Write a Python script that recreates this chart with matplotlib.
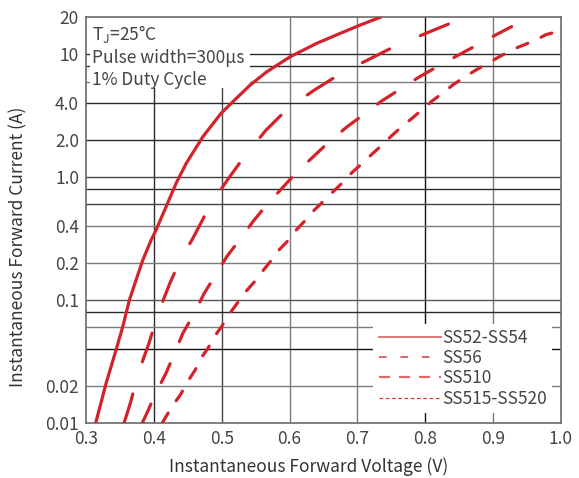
import numpy as np
import matplotlib
matplotlib.use("Agg")
import matplotlib.pyplot as plt
from matplotlib.lines import Line2D
from matplotlib.patches import Rectangle

plt.rcParams['font.family'] = ['Noto Sans CJK SC', 'DejaVu Sans']
plt.rcParams['mathtext.fontset'] = 'custom'

# data (forward voltage V, forward current A)
v_ss52 = [0.3147, 0.3295, 0.3442, 0.3541, 0.3639, 0.3836, 0.3959, 0.4032, 0.418, 0.4327, 0.4475,
          0.4721, 0.4991, 0.5164, 0.5419, 0.5665, 0.6009, 0.6403, 0.6746, 0.7041, 0.7336]
i_ss52 = [0.0102, 0.0209, 0.0391, 0.0605, 0.0998, 0.211, 0.307, 0.371, 0.574, 0.889, 1.29,
          2.13, 3.31, 4.11, 5.62, 7.21, 9.55, 12.3, 14.8, 17.3, 20.0]

v_ss56 = [0.356, 0.3585, 0.366, 0.377, 0.393, 0.4058, 0.4224, 0.440, 0.456, 0.484, 0.510, 0.536,
          0.5655, 0.5965, 0.635, 0.670, 0.714, 0.751, 0.7956, 0.834, 0.859]
i_ss56 = [0.01, 0.011, 0.0149, 0.0255, 0.0448, 0.0767, 0.132, 0.220, 0.307, 0.604, 0.977, 1.54,
          2.42, 3.58, 5.05, 6.68, 8.93, 11.3, 14.4, 17.6, 20.0]

v_ss510 = [0.383, 0.390, 0.402, 0.418, 0.430, 0.4426, 0.458, 0.474, 0.490, 0.508, 0.526, 0.547,
           0.5665, 0.590, 0.610, 0.635, 0.657, 0.6835, 0.708, 0.735, 0.761, 0.790, 0.816, 0.847,
           0.874, 0.904, 0.930, 0.9475, 0.955]
i_ss510 = [0.01, 0.0121, 0.0171, 0.0255, 0.0362, 0.0535, 0.0753, 0.113, 0.157, 0.228, 0.307, 0.442,
           0.596, 0.826, 1.09, 1.47, 1.91, 2.54, 3.20, 4.14, 5.12, 6.49, 7.83, 9.73,
           11.7, 14.4, 17.1, 19.0, 20.0]

v_ss515 = [0.4125, 0.4176, 0.4273, 0.4401, 0.4485, 0.4608, 0.4681, 0.4804, 0.4888, 0.5002, 0.5109,
           0.5232, 0.5335, 0.5493, 0.5591, 0.5724, 0.5851, 0.5984, 0.6097, 0.6245, 0.6353, 0.6515,
           0.6639, 0.6795, 0.6919, 0.7081, 0.7214, 0.7376, 0.7499, 0.7665, 0.7804, 0.7975, 0.8099,
           0.8280, 0.8417, 0.8600, 0.8748, 0.8944, 0.9091, 0.9294, 0.9450, 0.9648, 0.9770, 0.9943]
i_ss515 = [0.01, 0.0112, 0.0137, 0.0173, 0.0212, 0.0269, 0.0328, 0.0411, 0.0501, 0.0612, 0.0767,
           0.0948, 0.114, 0.143, 0.169, 0.208, 0.258, 0.307, 0.371, 0.453, 0.532, 0.650,
           0.760, 0.917, 1.09, 1.31, 1.54, 1.85, 2.16, 2.61, 3.01, 3.63, 4.16,
           4.95, 5.69, 6.65, 7.45, 8.61, 9.55, 11.0, 11.9, 13.2, 14.4, 15.3]

labels = ['SS52-SS54', 'SS56', 'SS510', 'SS515-SS520']

x_ticks = [0.3, 0.4, 0.5, 0.6, 0.7, 0.8, 0.9, 1.0]
x_ticklabels = ['0.3', '0.4', '0.5', '0.6', '0.7', '0.8', '0.9', '1.0']
y_ticks = [0.01, 0.02, 0.1, 0.2, 0.4, 1.0, 2.0, 4.0, 10, 20]
y_ticklabels = ['0.01', '0.02', '0.1', '0.2', '0.4', '1.0', '2.0', '4.0', '10', '20']
y_grid = [0.02, 0.04, 0.06, 0.08, 0.1, 0.2, 0.4, 0.6, 0.8, 1.0, 2.0, 4.0, 6.0, 8.0, 10]

red = '#d2232a'
dark = '#2a2a2a'
gray = '#7d7a7a'
txt = '#444444'
fs = 12.5

fig = plt.figure(figsize=(5.79, 4.78), dpi=100)
ax = fig.add_axes([0.1485, 0.1151, 0.8204, 0.8487])
ax.set_yscale('log')
ax.set_xlim(0.3, 1.0)
ax.set_ylim(0.01, 20)

# grid, some lines darker than others like the original sheet
vcol = {0.4: dark, 0.5: '#444444', 0.6: gray, 0.7: gray, 0.8: '#111111', 0.9: gray}
for xv, c in vcol.items():
    ax.axvline(xv, color=c, lw=1.0, zorder=1)
hcol = {0.02: gray, 0.04: '#111111', 0.06: gray, 0.08: dark, 0.1: '#555555', 0.2: gray,
        0.4: gray, 0.6: '#444444', 0.8: dark, 1.0: '#444444', 2.0: dark, 4.0: dark,
        6.0: gray, 8.0: dark, 10: dark}
for yv in y_grid:
    ax.axhline(yv, color=hcol[yv], lw=1.0, zorder=1)
for s in ax.spines.values():
    s.set_color('#6a6a6a')
    s.set_linewidth(1.2)

ax.tick_params(length=0, labelsize=fs, labelcolor=txt, pad=5)
ax.set_xticks(x_ticks)
ax.set_xticklabels(x_ticklabels)
ax.set_yticks(y_ticks)
ax.set_yticklabels(y_ticklabels)
ax.yaxis.set_minor_locator(matplotlib.ticker.NullLocator())

# white panel under the test conditions
ax.add_patch(Rectangle((0.008, 0.826), 0.337, 0.174, transform=ax.transAxes,
                       facecolor='white', edgecolor='none', zorder=2))
ax.text(0.013, 0.985, 'T$_{\\mathregular{J}}$=25°C\nPulse width=300μs\n1% Duty Cycle',
        transform=ax.transAxes, ha='left', va='top', fontsize=fs, color=txt,
        linespacing=1.28, zorder=3)

lw = 2.3
ax.plot(v_ss52, i_ss52, color=red, lw=lw, zorder=4, solid_joinstyle='round')
ax.plot(v_ss56, i_ss56, color=red, lw=lw, dashes=(9.5, 10.5), dash_capstyle='round', zorder=4)
ax.plot(v_ss510, i_ss510, color=red, lw=lw, dashes=(6.5, 7.5), dash_capstyle='round', zorder=4)
ax.plot(v_ss515, i_ss515, color=red, lw=lw, dashes=(3.6, 4.6), dash_capstyle='round', zorder=4)

lc = '#e06a6a'
handles = [Line2D([], [], color=lc, lw=1.3),
           Line2D([], [], color='#d83a3a', lw=1.1, dashes=(5, 9)),
           Line2D([], [], color=lc, lw=1.6, dashes=(5, 4)),
           Line2D([], [], color='#d83a3a', lw=0.9, dashes=(3, 2))]
leg = ax.legend(handles, labels, loc='lower left', bbox_to_anchor=(0.605, 0.025),
                fontsize=fs, frameon=True, fancybox=False, framealpha=1,
                handlelength=3.6, handletextpad=0.05, labelspacing=0.13,
                borderpad=0.3, borderaxespad=0)
leg.get_frame().set_edgecolor('none')
for t in leg.get_texts():
    t.set_color(txt)
leg.set_zorder(5)

ax.set_xlabel('Instantaneous Forward Voltage (V)', fontsize=fs, color='#333333',
              va='center', ha='center')
ax.set_ylabel('Instantaneous Forward Current (A)', fontsize=fs, color='#333333',
              va='center', ha='center')
ax.xaxis.set_label_coords(0.469, -0.1085)
ax.yaxis.set_label_coords(-0.143, 0.434)

fig.savefig('out.png', dpi=100)
